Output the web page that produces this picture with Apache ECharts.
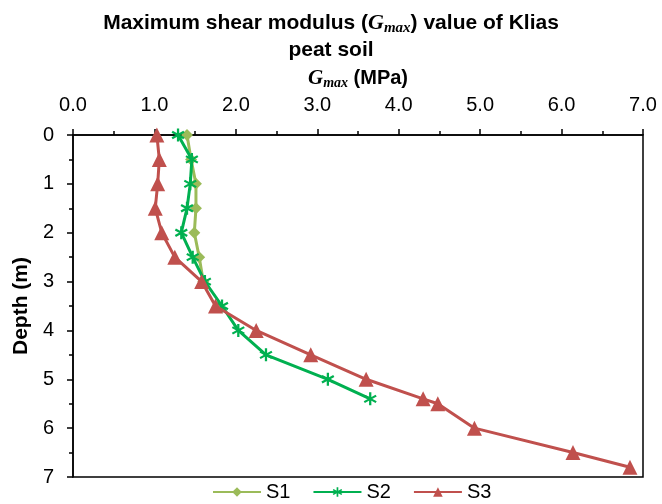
<!DOCTYPE html>
<html>
<head>
<meta charset="utf-8">
<script src="https://cdn.jsdelivr.net/npm/echarts@6/dist/echarts.min.js"></script>
<style>
  html, body { margin: 0; padding: 0; background: #fff; }
  #chart { width: 662px; height: 504px; }
</style>
</head>
<body>
<div id="chart"></div>
<script>
// depth (m) and Gmax (MPa)
const depthS1 = [0, 0.5, 1, 1.5, 2, 2.5, 3]
const gmaxS1 = [1.40, 1.45, 1.51, 1.51, 1.49, 1.55, 1.60]

const depthS2 = [0, 0.5, 1, 1.5, 2, 2.5, 3, 3.5, 4, 4.5, 5, 5.4]
const gmaxS2 = [1.29, 1.46, 1.44, 1.40, 1.33, 1.47, 1.62, 1.83, 2.03, 2.37, 3.13, 3.65]

const depthS3 = [0, 0.5, 1, 1.5, 2, 2.5, 3, 3.5, 4, 4.5, 5, 5.4, 5.5, 6, 6.5, 6.8]
const gmaxS3 = [1.03, 1.06, 1.04, 1.01, 1.09, 1.25, 1.58, 1.75, 2.25, 2.92, 3.60, 4.30, 4.48, 4.93, 6.14, 6.84]

const seriesNames = ['S1', 'S2', 'S3']
const seriesColors = ['#9BBB59', '#00B050', '#C0504D']

// asterisk marker like the excel one
const asterisk = 'path://M-1,-6L1,-6L1,6L-1,6Z' +
  'M-5.696,-2.134L-4.696,-3.866L5.696,2.134L4.696,3.866Z' +
  'M4.696,-3.866L5.696,-2.134L-4.696,3.866L-5.696,2.134Z'

const pairs = (xs, ys) => xs.map((x, i) => [x, ys[i]])

const chart = echarts.init(document.getElementById('chart'))
const font = 'Liberation Sans, Arial, sans-serif'
const serif = 'Liberation Serif, Times New Roman, serif'

const gmaxRich = (size) => ({
  g: { fontFamily: serif, fontStyle: 'italic', fontWeight: 'bold', fontSize: size + 1, color: '#000' },
  sub: { fontFamily: serif, fontStyle: 'italic', fontWeight: 'bold', fontSize: size - 6, color: '#000', padding: [9, 0, 0, 0] }
})

chart.setOption({
  animation: false,
  title: {
    text: 'Maximum shear modulus ({g|G}{sub|max}) value of Klias\npeat soil',
    left: 'center',
    top: 5,
    textStyle: {
      fontFamily: font,
      fontSize: 21,
      fontWeight: 'bold',
      color: '#000',
      lineHeight: 27,
      rich: gmaxRich(21)
    }
  },
  legend: {
    top: 477,
    left: 207,
    itemWidth: 48,
    itemHeight: 12,
    itemGap: 22,
    textStyle: { fontFamily: font, fontSize: 20, color: '#000' },
    data: seriesNames
  },
  grid: {
    left: 73,
    right: 19,
    top: 135,
    bottom: 27,
    show: true,
    borderColor: '#000',
    borderWidth: 1.5
  },
  xAxis: {
    type: 'value',
    position: 'top',
    min: 0,
    max: 7,
    interval: 1,
    name: '{g|G}{sub|max} (MPa)',
    nameLocation: 'middle',
    nameGap: 44,
    nameTextStyle: {
      fontFamily: font,
      fontSize: 20,
      fontWeight: 'bold',
      color: '#000',
      rich: gmaxRich(20)
    },
    axisLine: { show: true, lineStyle: { color: '#000', width: 1.5 } },
    axisTick: { show: true, length: 6, lineStyle: { color: '#000', width: 1.5 } },
    minorTick: { show: true, splitNumber: 2, length: 4, lineStyle: { color: '#000', width: 1.5 } },
    axisLabel: { fontFamily: font, fontSize: 20, color: '#000', margin: 20, formatter: v => v.toFixed(1) },
    splitLine: { show: false }
  },
  yAxis: {
    type: 'value',
    inverse: true,
    min: 0,
    max: 7,
    interval: 1,
    name: 'Depth (m)',
    nameLocation: 'middle',
    nameGap: 40,
    nameTextStyle: { fontFamily: font, fontSize: 21, fontWeight: 'bold', color: '#000' },
    axisLine: { show: true, lineStyle: { color: '#000', width: 1.5 } },
    axisTick: { show: true, length: 6, lineStyle: { color: '#000', width: 1.5 } },
    minorTick: { show: true, splitNumber: 2, length: 4, lineStyle: { color: '#000', width: 1.5 } },
    axisLabel: { fontFamily: font, fontSize: 20, color: '#000', margin: 19 },
    splitLine: { show: false }
  },
  series: [
    {
      name: seriesNames[0],
      type: 'line',
      data: pairs(gmaxS1, depthS1),
      color: seriesColors[0],
      symbol: 'diamond',
      symbolSize: 12,
      lineStyle: { width: 3 },
      z: 2
    },
    {
      name: seriesNames[1],
      type: 'line',
      data: pairs(gmaxS2, depthS2),
      color: seriesColors[1],
      symbol: asterisk,
      symbolSize: 13,
      lineStyle: { width: 3 },
      z: 3
    },
    {
      name: seriesNames[2],
      type: 'line',
      data: pairs(gmaxS3, depthS3),
      color: seriesColors[2],
      symbol: 'triangle',
      symbolSize: 15,
      lineStyle: { width: 3 },
      z: 4
    }
  ]
})
</script>
</body>
</html>
